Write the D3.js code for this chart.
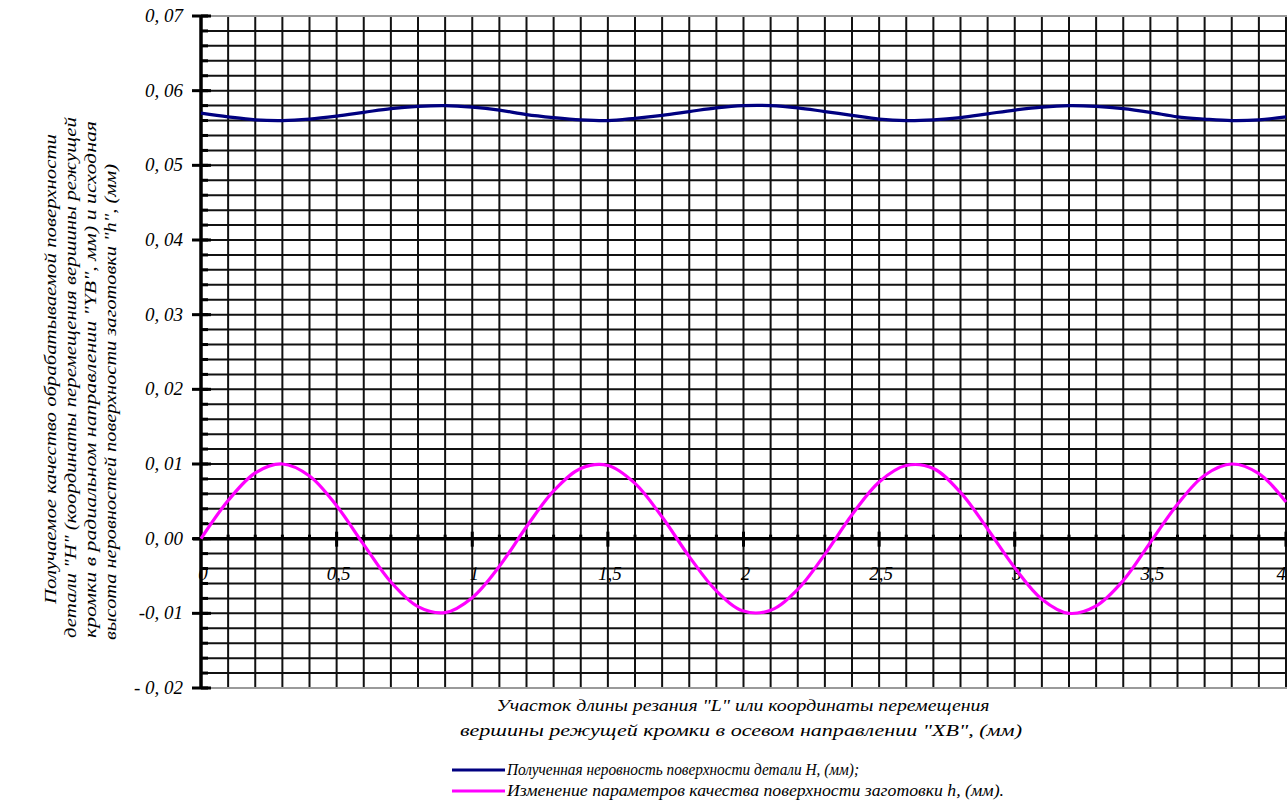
<!DOCTYPE html>
<html><head><meta charset="utf-8">
<script src="https://cdn.jsdelivr.net/npm/d3@7"></script>
<style>html,body{margin:0;padding:0;background:#fff;overflow:hidden}svg{display:block}</style>
</head><body>
<svg id="c" width="1287" height="806"></svg>
<script>
// ---- data ----
const xValues = [0,0.1,0.2,0.3,0.4,0.5,0.6,0.7,0.8,0.9,1.0,1.1,1.2,1.3,1.4,1.5,1.6,1.7,1.8,1.9,2.0,2.1,2.2,2.3,2.4,2.5,2.6,2.7,2.8,2.9,3.0,3.1,3.2,3.3,3.4,3.5,3.6,3.7,3.8,3.9,4.0];
const seriesH = [0.0570,0.0565,0.0561,0.0560,0.0562,0.0566,0.0571,0.0576,0.0579,0.0580,0.0578,0.0574,0.0568,0.0564,0.0561,0.0560,0.0563,0.0567,0.0572,0.0577,0.0580,0.0580,0.0577,0.0572,0.0567,0.0562,0.0560,0.0561,0.0564,0.0569,0.0574,0.0578,0.0580,0.0579,0.0576,0.0571,0.0565,0.0562,0.0560,0.0561,0.0565];
const seriesh = [0,0.0051,0.0088,0.0100,0.0084,0.0044,-0.0008,-0.0058,-0.0091,-0.0099,-0.0079,-0.0037,0.0016,0.0064,0.0094,0.0098,0.0074,0.0029,-0.0024,-0.0070,-0.0097,-0.0096,-0.0068,-0.0021,0.0032,0.0076,0.0098,0.0094,0.0062,0.0013,-0.0039,-0.0081,-0.0100,-0.0090,-0.0056,-0.0005,0.0046,0.0085,0.0100,0.0087,0.0049];
const yTickValues = [0.07,0.06,0.05,0.04,0.03,0.02,0.01,0,-0.01,-0.02];
const yTickLabels = ["0, 07","0, 06","0, 05","0, 04","0, 03","0, 02","0, 01","0, 00","-0, 01","- 0, 02"];
const xTickValues = [0,0.5,1,1.5,2,2.5,3,3.5,4];
const xTickLabels = ["0","0,5","1","1,5","2","2,5","3","3,5","4"];
const xTitle = ["Участок длины резания \"L\" или координаты перемещения","вершины режущей кромки в осевом направлении \"XB\", (мм)"];
const yTitle = ["Получаемое качество обрабатываемой поверхности","детали \"H\" (координаты перемещения вершины режущей","кромки в радиальном направлении \"YB\", мм) и исходная","высота неровностей поверхности заготовки \"h\", (мм)"];
const legendLabels = ["Полученная неровность поверхности детали H, (мм);","Изменение параметров качества поверхности заготовки h, (мм)."];
const colors = ["#000080","#ff00ff"];

// ---- layout ----
const svg = d3.select("#c");
const x = d3.scaleLinear().domain([0,4]).range([201,1286]);
const y = d3.scaleLinear().domain([-0.02,0.07]).range([688,16]);
const font = "'Liberation Serif','Times New Roman',serif";

// grid
const g = svg.append("g");
g.selectAll(".hg").data(d3.range(-20,71,2).map(v=>v/1000)).join("line")
  .attr("x1",x(0)).attr("x2",1287).attr("y1",d=>y(d)).attr("y2",d=>y(d))
  .attr("stroke",(d,i,a)=> (i===0||i===a.length-1)?"#9a9a9a":"#111").attr("stroke-width",2);
g.selectAll(".vg").data(d3.range(1,41).map(v=>v/10)).join("line")
  .attr("x1",d=>x(d)).attr("x2",d=>x(d)).attr("y1",y(0.07)+1).attr("y2",y(-0.02)-1)
  .attr("stroke","#111").attr("stroke-width",2);

// x axis at y=0
const xa = svg.append("g").attr("transform",`translate(0,${y(0)})`);
xa.append("line").attr("x1",193).attr("x2",1287).attr("y1",0).attr("y2",0).attr("stroke","#000").attr("stroke-width",3.5);
xa.selectAll(".mt").data(d3.range(1,41).map(v=>v/10)).join("line")
  .attr("x1",d=>x(d)).attr("x2",d=>x(d))
  .attr("y1",(d,i)=> ((i+1)%5===0)?-7:-4).attr("y2",(d,i)=> ((i+1)%5===0)?8:0)
  .attr("stroke","#000").attr("stroke-width",3);
svg.selectAll(".xl").data(xTickValues).join("text")
  .attr("x",(d,i)=> i===xTickValues.length-1 ? 1286 : x(d)+2).attr("y",y(0)+41)
  .attr("text-anchor",(d,i)=> i===xTickValues.length-1 ? "end" : "middle")
  .attr("font-family",font).attr("font-style","italic")
  .attr("font-size",19).attr("fill","#000").text((d,i)=>xTickLabels[i]);

// y axis
const ya = svg.append("g").attr("transform",`translate(${x(0)},0)`);
ya.append("line").attr("x1",0).attr("x2",0).attr("y1",y(0.07)).attr("y2",y(-0.02)+1).attr("stroke","#000").attr("stroke-width",3.5);
ya.selectAll(".ymin").data(d3.range(-20,71,2).map(v=>v/1000)).join("line")
  .attr("x1",0).attr("x2",7).attr("y1",d=>y(d)).attr("y2",d=>y(d)).attr("stroke","#000").attr("stroke-width",3);
ya.selectAll(".ymaj").data(yTickValues).join("line")
  .attr("x1",-9).attr("x2",10).attr("y1",d=>y(d)).attr("y2",d=>y(d)).attr("stroke","#000").attr("stroke-width",3);
svg.selectAll(".yl").data(yTickValues).join("text")
  .attr("x",183).attr("y",d=>y(d)+6)
  .attr("text-anchor","end").attr("font-family",font).attr("font-style","italic")
  .attr("font-size",19).attr("fill","#000").text((d,i)=>yTickLabels[i]);

// lines
const line = d3.line().x(d=>x(d[0])).y(d=>y(d[1])).curve(d3.curveCatmullRom);
[seriesH, seriesh].forEach((s,k)=>{
  svg.append("path").datum(xValues.map((v,i)=>[v,s[i]]))
    .attr("d",line).attr("fill","none").attr("stroke",colors[k]).attr("stroke-width",3.2);
});

// x title
const xtPos = [{cx:743,y:711,len:493},{cx:741,y:736,len:562}];
svg.selectAll(".xt").data(xTitle).join("text")
  .attr("x",(d,i)=>xtPos[i].cx - xtPos[i].len/2).attr("y",(d,i)=>xtPos[i].y)
  .attr("textLength",(d,i)=>xtPos[i].len).attr("lengthAdjust","spacingAndGlyphs")
  .attr("font-family",font).attr("font-style","italic").attr("font-size",16).attr("fill","#000").text(d=>d);

// y title (rotated)
const ytPos = [{x:56,y0:604,len:470},{x:76,y0:638,len:521},{x:96,y0:638,len:517},{x:116,y0:640,len:476}];
svg.selectAll(".yt").data(yTitle).join("text")
  .attr("transform",(d,i)=>`translate(${ytPos[i].x},${ytPos[i].y0}) rotate(-90)`)
  .attr("x",0).attr("y",0)
  .attr("textLength",(d,i)=>ytPos[i].len).attr("lengthAdjust","spacingAndGlyphs")
  .attr("font-family",font).attr("font-style","italic").attr("font-size",16).attr("fill","#000").text(d=>d);

// legend
const lg = svg.append("g");
legendLabels.forEach((t,i)=>{
  const yy = 770 + i*21;
  lg.append("line").attr("x1",452).attr("x2",505).attr("y1",yy).attr("y2",yy).attr("stroke",colors[i]).attr("stroke-width",3);
  lg.append("text").attr("x",507).attr("y",yy+5)
    .attr("textLength",i===0?352:497).attr("lengthAdjust","spacingAndGlyphs")
    .attr("font-family",font).attr("font-style","italic").attr("font-size",16).attr("fill","#000").text(t);
});
</script>
</body></html>
